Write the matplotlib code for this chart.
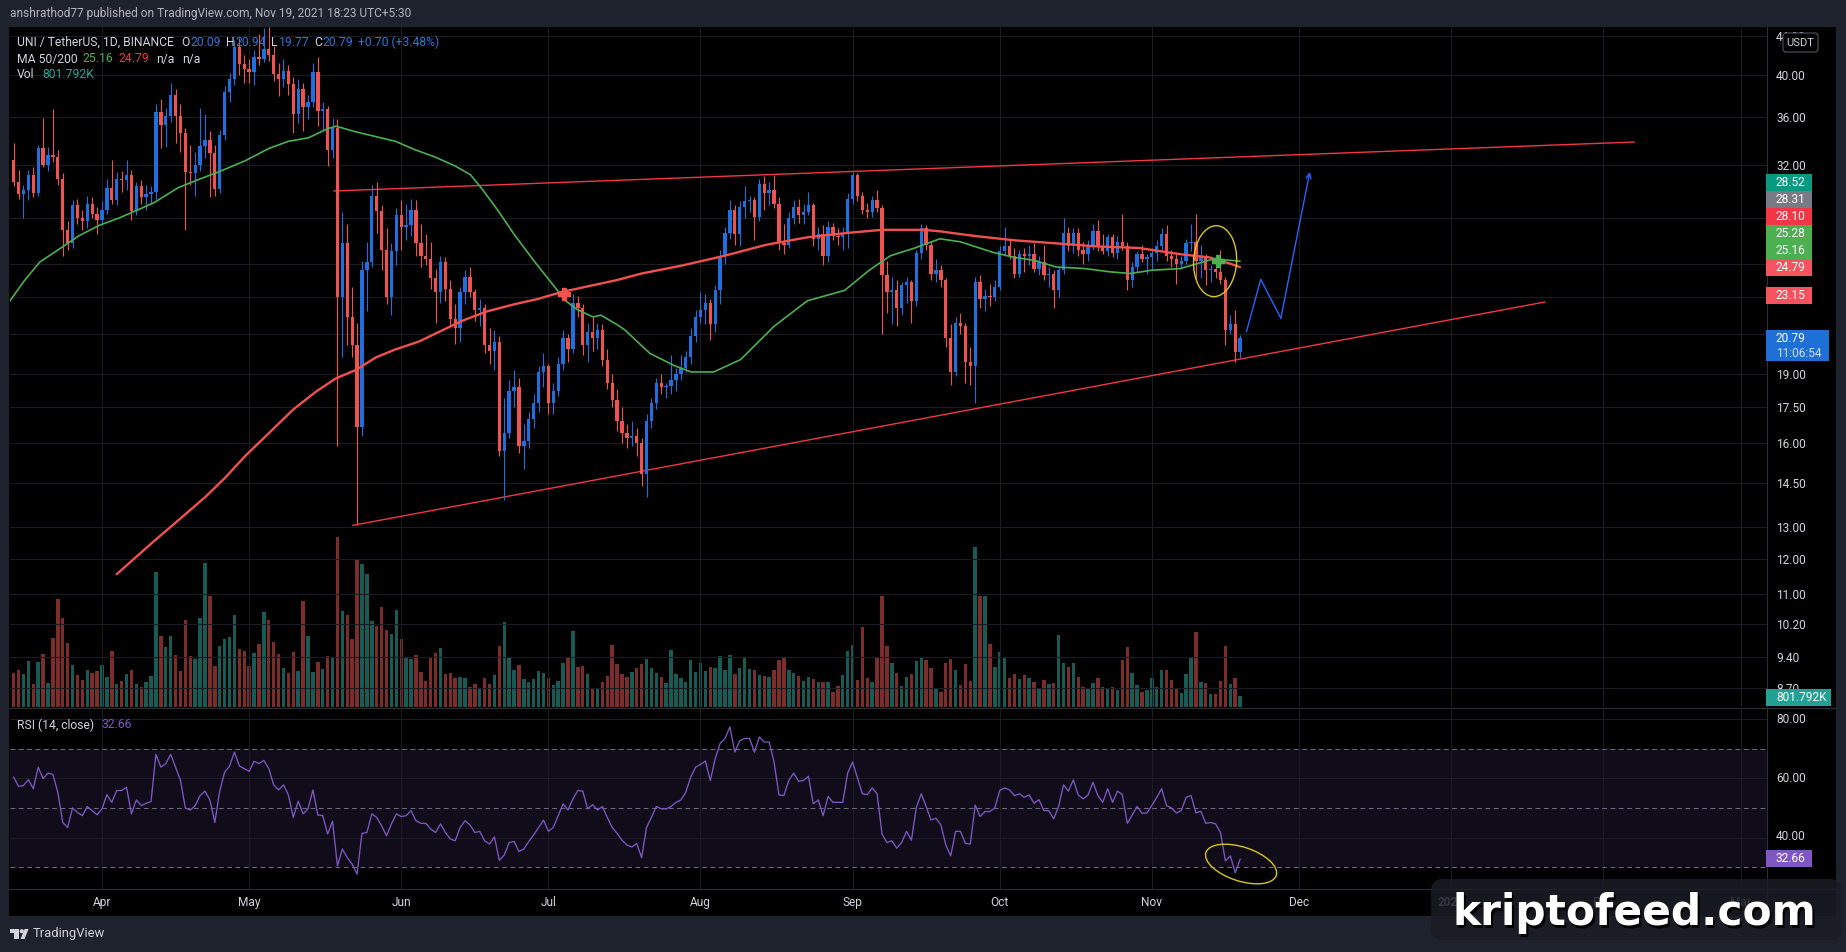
import numpy as np
import matplotlib
matplotlib.use("Agg")
import matplotlib.pyplot as plt
from matplotlib.patches import Rectangle, FancyBboxPatch, Ellipse, Circle, Polygon
from matplotlib.transforms import ScaledTranslation
from matplotlib.ticker import NullLocator, FixedLocator

plt.rcParams['font.family'] = ['Roboto', 'DejaVu Sans']

# ---------------- data (day index 0 = 2021-03-14, UNI/USDT 1D) ----------------
opens = [32.4, 30.6, 29.7, 30.0, 31.2, 29.8, 33.3, 32.0, 32.8, 32.6,
         30.9, 27.2, 26.3, 28.9, 28.0, 27.8, 29.0, 28.3, 27.9, 28.6,
         30.2, 29.3, 30.9, 30.8, 31.2, 28.5, 30.3, 29.5, 29.7, 29.9,
         36.5, 35.3, 36.1, 38.0, 36.1, 34.6, 31.4, 31.3, 32.0, 33.5,
         34.0, 32.9, 30.1, 34.4, 38.3, 39.6, 42.9, 41.1, 40.6, 40.3,
         41.8, 41.6, 42.6, 42.0, 40.1, 39.6, 40.4, 39.1, 36.3, 38.6,
         36.9, 37.4, 40.3, 36.6, 36.7, 33.2, 35.0, 23.0, 26.3, 21.9,
         20.4, 16.65, 24.6, 25.1, 29.6, 28.5, 25.9, 23.0, 25.8, 28.2,
         27.4, 27.5, 28.6, 26.3, 25.5, 25.3, 24.1, 23.3, 25.1, 23.5,
         21.8, 21.3, 23.3, 24.2, 23.3, 22.3, 22.4, 20.4, 20.1, 20.6,
         15.7, 16.4, 18.2, 18.4, 15.9, 16.1, 17.0, 17.7, 19.1, 19.4,
         17.7, 18.2, 19.5, 20.8, 20.2, 22.7, 22.4, 20.4, 21.1, 20.8,
         21.2, 19.7, 18.6, 17.8, 16.9, 16.4, 16.2, 16.3, 16.0, 14.8,
         16.9, 17.7, 18.6, 18.4, 18.45, 18.7, 19.0, 19.3, 19.8, 20.9,
         21.9, 22.3, 22.7, 21.5, 23.4, 25.5, 27.0, 28.6, 26.9, 28.8,
         29.2, 29.3, 28.1, 30.5, 29.8, 30.0, 29.0, 26.3, 26.2, 28.0,
         28.8, 28.2, 28.4, 28.9, 26.6, 26.9, 25.5, 27.4, 26.8, 26.7,
         27.0, 29.4, 31.2, 29.6, 28.6, 28.4, 29.3, 28.7, 24.3, 23.3,
         23.4, 22.4, 23.7, 23.9, 22.8, 25.7, 27.3, 26.2, 24.4, 24.6,
         24.0, 20.8, 19.1, 21.6, 21.4, 19.6, 19.4, 23.9, 22.9, 23.1,
         23.0, 23.6, 25.8, 26.1, 25.5, 24.4, 25.6, 25.5, 25.6, 24.7,
         25.1, 24.3, 24.4, 23.4, 24.6, 27.0, 26.1, 27.0, 25.9, 25.6,
         26.1, 27.1, 26.1, 25.8, 26.7, 25.7, 26.4, 26.1, 24.0, 24.8,
         25.6, 25.3, 25.4, 25.7, 26.1, 26.9, 25.5, 25.3, 25.0, 25.2,
         26.3, 26.4, 25.2, 25.4, 24.6, 24.7, 24.5, 24.0, 21.2, 21.5,
         20.09]
highs = [33.8, 31.6, 30.4, 31.6, 31.8, 33.6, 35.9, 33.4, 36.7, 33.2,
         31.3, 27.8, 29.3, 29.4, 28.6, 29.6, 29.5, 28.8, 29.2, 30.9,
         32.4, 31.4, 31.5, 32.4, 31.6, 30.6, 30.8, 30.4, 30.3, 37.2,
         37.7, 36.8, 39.2, 38.6, 37.2, 35.0, 33.6, 33.0, 36.8, 36.3,
         34.8, 33.6, 34.9, 38.9, 40.2, 43.6, 43.8, 42.0, 41.6, 42.5,
         44.3, 44.9, 45.0, 43.0, 41.2, 41.6, 41.0, 39.8, 39.6, 39.2,
         38.0, 41.2, 41.8, 37.4, 37.0, 35.9, 35.8, 28.4, 27.6, 23.6,
         21.6, 25.2, 26.4, 30.4, 30.6, 28.9, 27.3, 26.3, 28.7, 29.3,
         29.0, 29.4, 29.3, 27.6, 26.9, 26.4, 24.7, 25.5, 25.4, 24.0,
         22.6, 23.6, 24.6, 24.8, 23.5, 22.9, 22.6, 21.3, 21.2, 20.9,
         17.9, 18.7, 19.2, 18.8, 16.8, 17.3, 18.1, 19.4, 20.0, 19.5,
         18.6, 19.8, 21.2, 21.0, 23.2, 23.1, 22.6, 21.6, 21.9, 21.6,
         21.5, 20.2, 19.0, 18.3, 17.5, 16.8, 16.9, 16.6, 16.2, 17.2,
         17.9, 18.8, 19.0, 18.6, 19.9, 19.3, 19.9, 20.1, 21.3, 22.3,
         23.3, 23.2, 22.9, 23.7, 25.9, 27.4, 29.3, 28.9, 29.2, 30.3,
         29.6, 29.5, 30.9, 31.1, 30.6, 31.2, 29.5, 27.6, 28.4, 29.3,
         29.4, 29.0, 29.9, 29.1, 27.4, 27.5, 27.8, 27.7, 27.3, 27.4,
         29.8, 31.4, 31.3, 29.9, 29.1, 29.6, 30.0, 28.9, 25.2, 24.2,
         24.0, 23.9, 24.2, 24.0, 25.9, 27.6, 27.5, 26.4, 25.3, 24.9,
         24.1, 21.5, 21.9, 22.1, 21.6, 20.3, 24.2, 24.3, 23.5, 23.8,
         24.0, 26.1, 27.4, 26.5, 26.0, 25.9, 26.0, 26.2, 26.3, 25.5,
         26.2, 24.8, 24.6, 24.8, 28.0, 27.4, 27.3, 27.3, 26.4, 26.5,
         27.6, 27.9, 26.9, 26.9, 26.9, 26.8, 28.3, 26.4, 25.1, 25.8,
         26.2, 25.6, 26.0, 26.5, 27.3, 27.5, 25.9, 25.6, 25.5, 26.6,
         27.6, 28.3, 26.2, 25.6, 24.9, 24.8, 25.9, 24.2, 22.0, 22.3,
         20.94]
lows = [30.3, 29.4, 28.0, 29.3, 29.5, 29.6, 31.8, 31.5, 32.2, 30.4,
        25.5, 25.9, 26.0, 27.6, 27.2, 27.3, 28.0, 26.9, 27.5, 28.3,
        29.0, 28.9, 29.9, 30.0, 27.9, 28.2, 29.0, 28.6, 29.0, 29.4,
        33.3, 33.4, 35.6, 33.8, 33.0, 27.2, 30.4, 29.6, 31.5, 32.5,
        29.5, 29.6, 29.8, 34.0, 37.4, 39.0, 40.0, 39.2, 39.2, 39.0,
        41.0, 41.3, 41.4, 39.4, 37.9, 38.8, 38.0, 34.6, 35.5, 34.8,
        35.8, 36.9, 35.2, 34.9, 31.9, 32.5, 15.9, 19.8, 20.4, 19.8,
        13.05, 16.3, 22.2, 24.8, 27.0, 24.6, 22.6, 22.0, 24.9, 25.9,
        26.5, 26.8, 25.5, 24.8, 24.9, 23.5, 21.6, 22.7, 22.8, 21.4,
        20.5, 20.6, 22.6, 23.0, 21.7, 21.4, 20.0, 19.5, 19.2, 15.5,
        13.9, 16.2, 17.5, 15.6, 15.0, 15.8, 16.6, 17.3, 18.4, 17.2,
        17.2, 18.0, 19.2, 19.6, 20.0, 21.9, 19.9, 19.6, 20.1, 20.2,
        19.4, 18.3, 17.5, 16.5, 16.0, 15.8, 15.9, 15.5, 14.4, 14.0,
        16.6, 17.4, 18.1, 17.9, 18.1, 18.2, 18.7, 19.1, 19.5, 20.6,
        21.6, 21.5, 20.7, 21.1, 22.6, 25.0, 26.6, 26.2, 26.1, 28.0,
        28.4, 26.5, 27.8, 28.6, 28.9, 28.7, 25.9, 25.6, 26.0, 27.6,
        27.7, 27.6, 28.2, 26.1, 25.9, 24.9, 25.1, 26.5, 26.2, 25.9,
        26.0, 29.0, 29.2, 28.3, 28.0, 28.1, 28.4, 21.0, 22.1, 21.5,
        21.4, 22.0, 22.7, 21.6, 22.5, 25.3, 25.9, 24.0, 23.9, 23.6,
        20.3, 18.5, 18.9, 21.0, 18.6, 18.5, 17.7, 22.4, 22.2, 22.5,
        22.8, 23.4, 25.5, 25.3, 24.1, 24.2, 24.5, 24.9, 24.5, 24.3,
        24.0, 23.6, 22.4, 23.0, 24.4, 25.8, 25.7, 25.5, 25.0, 25.2,
        25.9, 25.8, 25.6, 25.5, 25.4, 25.3, 25.9, 23.4, 23.6, 24.5,
        25.1, 24.4, 24.6, 25.2, 25.8, 25.2, 24.8, 23.8, 24.7, 25.0,
        25.8, 24.0, 24.1, 23.7, 23.9, 24.1, 23.8, 20.4, 21.0, 19.6,
        19.77]
closes = [30.6, 29.7, 30.0, 31.2, 29.8, 33.3, 32.0, 32.8, 32.6, 30.9,
          27.2, 26.3, 28.9, 28.0, 27.8, 29.0, 28.3, 27.9, 28.6, 30.2,
          29.3, 30.9, 30.8, 31.2, 28.5, 30.3, 29.5, 29.7, 29.9, 36.5,
          35.3, 36.1, 38.0, 36.1, 34.6, 31.4, 31.3, 32.0, 33.5, 34.0,
          32.9, 30.1, 34.4, 38.3, 39.6, 42.9, 41.1, 40.6, 40.3, 41.8,
          41.6, 42.6, 42.0, 40.1, 39.6, 40.4, 39.1, 36.3, 38.6, 36.9,
          37.4, 40.3, 36.6, 36.7, 33.2, 35.0, 23.0, 26.3, 21.9, 20.4,
          16.65, 24.6, 25.1, 29.6, 28.5, 25.9, 23.0, 25.8, 28.2, 27.4,
          27.5, 28.6, 26.3, 25.5, 25.3, 24.1, 23.3, 25.1, 23.5, 21.8,
          21.3, 23.3, 24.2, 23.3, 22.3, 22.4, 20.4, 20.1, 20.6, 15.7,
          16.4, 18.2, 18.4, 15.9, 16.1, 17.0, 17.7, 19.1, 19.4, 17.7,
          18.2, 19.5, 20.8, 20.2, 22.7, 22.4, 20.4, 21.1, 20.8, 21.2,
          19.7, 18.6, 17.8, 16.9, 16.4, 16.2, 16.3, 16.0, 14.8, 16.9,
          17.7, 18.6, 18.4, 18.45, 18.7, 19.0, 19.3, 19.8, 20.9, 21.9,
          22.3, 22.7, 21.5, 23.4, 25.5, 27.0, 28.6, 26.9, 28.8, 29.2,
          29.3, 28.1, 30.5, 29.8, 30.0, 29.0, 26.3, 26.2, 28.0, 28.8,
          28.2, 28.4, 28.9, 26.6, 26.9, 25.5, 27.4, 26.8, 26.7, 27.0,
          29.4, 31.2, 29.6, 28.6, 28.4, 29.3, 28.7, 24.3, 23.3, 23.4,
          22.4, 23.7, 23.9, 22.8, 25.7, 27.3, 26.2, 24.4, 24.6, 24.0,
          20.8, 19.1, 21.6, 21.4, 19.6, 19.4, 23.9, 22.9, 23.1, 23.0,
          23.6, 25.8, 26.1, 25.5, 24.4, 25.6, 25.5, 25.6, 24.7, 25.1,
          24.3, 24.4, 23.4, 24.6, 27.0, 26.1, 27.0, 25.9, 25.6, 26.1,
          27.1, 26.1, 25.8, 26.7, 25.7, 26.4, 26.1, 24.0, 24.8, 25.6,
          25.3, 25.4, 25.7, 26.1, 26.9, 25.5, 25.3, 25.0, 25.2, 26.3,
          26.4, 25.2, 25.4, 24.6, 24.7, 24.5, 24.0, 21.2, 21.5, 20.09,
          20.79]
volumes_m = [2.43, 2.64, 2.36, 3.28, 1.65, 3.19, 3.78, 1.72, 4.91, 7.68,
             6.33, 4.56, 3.00, 2.29, 1.94, 2.64, 2.43, 2.57, 3.00, 2.15,
             3.99, 1.65, 1.86, 2.36, 2.64, 1.65, 1.44, 1.79, 2.22, 9.59,
             5.06, 4.28, 5.06, 3.71, 2.57, 6.19, 3.64, 3.42, 6.33, 10.23,
             7.89, 2.93, 4.35, 4.84, 4.98, 6.54, 4.13, 3.99, 2.93, 3.85,
             4.49, 6.76, 6.19, 4.63, 3.78, 2.79, 2.43, 3.92, 2.57, 7.54,
             5.06, 2.50, 3.21, 2.72, 3.64, 3.50, 12.05, 6.83, 6.54, 4.84,
             10.51, 10.16, 9.45, 6.12, 5.76, 7.11, 5.48, 5.20, 6.90, 4.84,
             3.50, 3.42, 3.71, 2.50, 1.86, 3.57, 3.85, 4.20, 2.36, 2.43,
             2.08, 2.15, 2.08, 1.44, 1.65, 1.37, 2.08, 1.65, 2.29, 4.35,
             6.05, 3.57, 2.64, 3.00, 2.01, 1.79, 2.01, 2.57, 2.43, 2.08,
             1.58, 1.86, 3.14, 3.50, 5.41, 2.86, 2.93, 2.36, 1.37, 1.30,
             1.79, 2.22, 4.42, 3.07, 2.36, 2.15, 2.50, 2.79, 3.07, 3.42,
             2.79, 2.43, 2.15, 1.72, 4.06, 2.36, 2.08, 1.79, 3.35, 2.50,
             3.14, 2.57, 2.86, 2.79, 3.64, 2.64, 3.71, 2.36, 2.79, 3.57,
             2.72, 2.64, 2.29, 2.22, 2.15, 2.64, 3.35, 3.50, 2.64, 2.43,
             2.22, 1.86, 2.15, 2.01, 1.79, 1.79, 1.79, 1.08, 1.51, 2.29,
             3.99, 4.42, 1.94, 5.69, 2.08, 1.79, 3.50, 7.89, 4.35, 3.14,
             2.43, 1.51, 2.15, 2.36, 3.28, 3.50, 3.35, 2.79, 1.30, 1.08,
             3.14, 3.42, 2.64, 1.58, 3.07, 1.86, 11.37, 7.89, 7.89, 4.49,
             2.86, 3.92, 3.50, 2.08, 2.36, 2.01, 2.29, 2.08, 1.79, 1.30,
             1.94, 1.65, 1.72, 5.13, 3.14, 2.86, 3.14, 2.15, 1.44, 1.37,
             1.72, 2.08, 1.44, 1.30, 1.44, 1.23, 3.35, 4.28, 2.43, 1.58,
             1.08, 1.23, 2.08, 1.44, 2.64, 2.64, 1.94, 1.30, 1.01, 2.36,
             3.57, 5.34, 1.79, 1.72, 0.94, 0.94, 1.86, 4.35, 1.65, 2.08,
             0.80]
rsi_values = [60.4, 57.3, 57.6, 59.6, 56.5, 63.8, 59.9, 61.8, 61.3, 55.3,
              45.1, 43.4, 50.0, 48.5, 47.4, 50.5, 49.1, 47.7, 49.7, 54.5,
              51.9, 55.9, 55.9, 57.0, 48.0, 52.7, 50.8, 51.6, 52.2, 68.1,
              63.8, 65.0, 68.1, 63.8, 59.3, 50.0, 49.3, 50.8, 54.2, 55.7,
              52.7, 45.1, 55.7, 62.1, 64.1, 68.9, 64.2, 63.3, 62.4, 65.8,
              65.0, 66.1, 63.3, 57.8, 56.1, 57.8, 54.4, 46.8, 52.3, 48.0,
              49.7, 56.1, 47.6, 47.4, 41.2, 45.5, 30.4, 36.1, 33.2, 31.0,
              27.6, 41.4, 41.7, 48.0, 46.8, 44.0, 40.6, 44.6, 48.0, 47.1,
              47.4, 49.1, 45.7, 44.8, 44.8, 42.9, 41.7, 44.6, 41.7, 39.5,
              38.9, 43.4, 45.7, 44.3, 41.7, 42.1, 38.9, 37.8, 40.2, 32.3,
              34.1, 38.3, 38.7, 35.3, 36.1, 38.7, 40.9, 43.4, 45.9, 42.1,
              43.4, 47.4, 51.4, 49.3, 53.1, 55.9, 55.7, 49.7, 51.1, 49.3,
              50.5, 46.8, 43.4, 41.4, 39.1, 37.5, 36.8, 38.0, 33.2, 43.4,
              46.8, 50.5, 49.7, 49.7, 50.5, 51.9, 52.7, 55.3, 60.4, 63.8,
              64.7, 65.9, 59.3, 66.7, 71.8, 73.5, 77.4, 68.9, 72.7, 73.5,
              73.5, 68.9, 74.0, 72.3, 72.3, 65.5, 54.4, 54.2, 59.3, 61.8,
              59.0, 59.3, 60.7, 51.4, 52.7, 47.4, 53.9, 51.9, 51.9, 51.9,
              61.8, 65.5, 60.2, 54.8, 54.5, 56.8, 54.8,
              41.2, 38.3, 38.9, 36.4, 38.3, 42.1, 39.1, 50.2, 54.8, 50.5,
              45.9, 46.5, 44.3, 37.5, 33.8, 42.1, 42.1, 38.0, 37.8, 51.0,
              47.1, 48.8, 48.8, 50.0, 55.9, 56.8, 56.1, 54.2, 54.8, 53.6,
              54.4, 51.6, 52.8, 49.1, 49.1, 46.3, 50.5, 57.8, 55.7, 59.5,
              54.4, 53.1, 54.4, 58.7, 54.2, 51.9, 56.5, 51.9, 55.7, 54.5,
              44.8, 47.6, 50.5, 48.2, 48.3, 50.8, 53.6, 56.5, 50.8, 50.0,
              48.3, 49.1, 53.6, 54.2, 48.3, 48.9, 44.8, 45.1, 44.6, 41.7,
              32.1, 33.8, 28.1, 32.66]
ma50_x = [-1, 2, 5.3, 10.1, 13.3, 17.4, 21.4, 25.4, 28.6, 33.5,
          37.5, 42.3, 47.2, 52.0, 56.0, 60.1, 64.1, 65.7, 69.8, 73.8,
          77.8, 81.8, 85.9, 89.9, 93.1, 95.5, 98.8, 102.0, 106.0, 110.0,
          112.5, 114.9, 118.1, 119.7, 122.9, 124.6, 129.7, 134.7, 138.1, 142.7,
          148.2, 155.0, 161.8, 169.4, 174.4, 178.7, 183.7, 188.8, 193.0, 199.8,
          204.0, 208.2, 212.5, 218.4, 223.5, 227.7, 231.9, 237.8, 241.2, 244.6, 250]
ma50_y = [22.7, 23.9, 25.1, 26.1, 26.8, 27.5, 28.0, 28.6, 29.1, 30.2,
          30.8, 31.5, 32.3, 33.3, 33.9, 34.2, 35.0, 35.2, 34.7, 34.3,
          33.9, 33.2, 32.6, 31.9, 31.2, 30.1, 28.5, 26.9, 25.2, 23.7,
          22.8, 22.3, 21.9, 22.0, 21.5, 21.2, 20.0, 19.4, 19.1, 19.1,
          19.7, 21.4, 22.8, 23.4, 24.6, 25.5, 26.0, 26.6, 26.4, 25.7,
          25.4, 25.2, 24.8, 24.7, 24.5, 24.4, 24.6, 24.7, 25.0, 25.3, 25.16]
ma200_x = [21.0, 28.3, 32.8, 39.1, 43.2, 47.2, 52.0, 57.0, 61.7, 65.7,
           69.8, 73.8, 77.8, 82.6, 87.5, 91.5, 96.4, 102.0, 106.8, 111.7,
           116.5, 122.9, 128.0, 136.4, 144.9, 153.3, 161.8, 170.2, 177.0, 185.4,
           188.8, 195.6, 204.0, 212.5, 220.9, 229.4, 237.8, 243.7, 248.0, 250]
ma200_y = [11.55, 12.5, 13.1, 14.0, 14.7, 15.5, 16.4, 17.4, 18.2, 18.8,
           19.2, 19.8, 20.2, 20.6, 21.2, 21.7, 22.2, 22.6, 22.9, 23.3,
           23.6, 24.0, 24.4, 24.9, 25.5, 26.2, 26.7, 27.0, 27.2, 27.2,
           27.1, 26.8, 26.5, 26.3, 26.1, 26.0, 25.6, 25.4, 25.0, 24.79]
cross_x = [112.1, 245.4]
cross_y = [23.16, 25.2]
cross_colors = ['#ef5350', '#4caf50']
trend_upper_x = [65.3, 330.3]
trend_upper_y = [29.96, 33.84]
trend_lower_x = [69.1, 312.1]
trend_lower_y = [13.04, 22.73]
proj_x = [251.3, 254.2, 258.3, 264.2]
proj_y = [21.12, 24.05, 21.83, 31.41]
circle_price = (244.9, 25.16)
circle_rsi = (250.2, 31.05)
month_pos = [18, 48, 79, 109, 140, 171, 201, 232, 262, 293, 324, 352]
month_labels = ['Apr', 'May', 'Jun', 'Jul', 'Aug', 'Sep', 'Oct', 'Nov', 'Dec', '2022', 'Feb', 'Mar']
price_ticks = [44, 40, 36, 32, 28, 25, 23, 21, 19, 17.5, 16, 14.5, 13, 12, 11, 10.2, 9.4, 8.7]
rsi_ticks = [80, 60, 40]
side_labels = ['28.52', '28.31', '28.10', '25.28', '25.16', '24.79', '23.15']
side_colors = ['#089981', '#787b86', '#f23645', '#4caf50', '#4caf50', '#f7525f', '#f7525f']

# ---------------- layout ----------------
W, H, DPI = 1846, 952, 100
fig = plt.figure(figsize=(W / DPI, H / DPI), dpi=DPI)
fig.patch.set_facecolor('#1e222d')

PL, PR = 9.8, 1767.0
MT, MB = 27.0, 707.0
RT, RB = 708.0, 889.0
TB = 916.0
AXR = 1836.0
XMIN, XMAX = -0.79, 357.4
GRID = '#191c25'
TXT = '#d1d4dc'
UP, DN = '#1f6fde', '#f05252'
VUP, VDN = '#185a54', '#7c2d2b'


def rect(x0, y0, x1, y1):
    return [x0 / W, 1 - y1 / H, (x1 - x0) / W, (y1 - y0) / H]


bg = fig.add_axes([0, 0, 1, 1], zorder=-5)
bg.set_xlim(0, W)
bg.set_ylim(H, 0)
bg.axis('off')
bg.add_patch(Rectangle((9, 27), AXR - 9, TB - 27, color='black', lw=0))

idx = np.arange(len(closes))
o = np.array(opens)
c = np.array(closes)
up = c >= o
ccol = np.where(up, UP, DN)
vcol = np.where(up, VUP, VDN)

# volume pane (underlay)
vax = fig.add_axes(rect(PL, MT, PR, MB), zorder=0)
vax.bar(idx, volumes_m, width=0.7, color=vcol, linewidth=0)
vax.set_xlim(XMIN, XMAX)
vax.set_ylim(0, 48.2)
vax.axis('off')

# price pane
ax = fig.add_axes(rect(PL, MT, PR, MB), zorder=1)
ax.patch.set_alpha(0)
ax.set_yscale('log')
for s in ax.spines.values():
    s.set_visible(False)
ax.yaxis.set_major_locator(FixedLocator(price_ticks))
ax.yaxis.set_minor_locator(NullLocator())
ax.set_yticklabels([f'{t:.2f}' for t in price_ticks])
ax.yaxis.tick_right()
ax.tick_params(axis='y', length=0, pad=6.5, labelsize=8.6, labelcolor=TXT)
ax.set_xticks(month_pos)
ax.tick_params(axis='x', length=0, labelbottom=False)
ax.grid(True, color=GRID, lw=0.75)
ax.set_axisbelow(True)

ax.plot(trend_upper_x, trend_upper_y, color='#f23645', lw=1.0, zorder=2)
ax.plot(trend_lower_x, trend_lower_y, color='#f23645', lw=1.0, zorder=2)

body_lo = np.minimum(o, c)
body_hi = np.maximum(o, c)
ax.vlines(idx, lows, highs, colors=ccol, lw=0.8, zorder=3)
ax.bar(idx, body_hi - body_lo, bottom=body_lo, width=0.68, color=ccol, linewidth=0, zorder=4)

ax.plot(ma200_x, ma200_y, color='#f0514f', lw=1.7, zorder=5, solid_capstyle='round')
ax.plot(ma50_x, ma50_y, color='#4caf50', lw=1.2, zorder=5, solid_capstyle='round')
for cx, cy, cc in zip(cross_x, cross_y, cross_colors):
    ax.plot([cx], [cy], marker='P', ms=8.5, color=cc, mec=cc, zorder=6)

ax.plot(proj_x[:-1], proj_y[:-1], color='#2962ff', lw=1.0, zorder=7)
ax.annotate('', xy=(proj_x[-1], proj_y[-1]), xytext=(proj_x[-2], proj_y[-2]),
            arrowprops=dict(arrowstyle='->', color='#2962ff', lw=1.0,
                            shrinkA=0, shrinkB=0, mutation_scale=9), zorder=7)


def px_ellipse(axis, center, w_px, h_px, angle):
    tr = fig.dpi_scale_trans + ScaledTranslation(center[0], center[1], axis.transData)
    e = Ellipse((0, 0), w_px / DPI, h_px / DPI, angle=angle, transform=tr,
                fill=False, ec='#d9c51c', lw=1.0, zorder=8)
    axis.add_artist(e)


px_ellipse(ax, circle_price, 43, 71, -3)
ax.set_xlim(XMIN, XMAX)
ax.set_ylim(8.30, 45.05)

# RSI pane
rax = fig.add_axes(rect(PL, RT, PR, RB), zorder=1)
rax.set_facecolor('black')
for s in rax.spines.values():
    s.set_visible(False)
rax.axhspan(30, 70, color='#100c1a', lw=0, zorder=0)
rax.set_yticks(rsi_ticks)
rax.set_xticks(month_pos)
rax.grid(True, color=GRID, lw=0.75)
rax.set_axisbelow(True)
rax.tick_params(length=0, labelbottom=False, labelleft=False)
for lvl in (70, 50, 30):
    rax.axhline(lvl, color='#6c6880', lw=0.75, ls=(0, (4.6, 3.4)), zorder=1)
rax.plot(idx, rsi_values, color='#7e57c2', lw=0.95, zorder=3)
px_ellipse(rax, circle_rsi, 74, 34, -18)
rax.set_xlim(XMIN, XMAX)
rax.set_ylim(22.6, 83.8)

# time axis
tax = fig.add_axes(rect(PL, RB, PR, TB), zorder=1)
tax.axis('off')
tax.set_xlim(XMIN, XMAX)
tax.set_ylim(0, 1)
for mp, ml in zip(month_pos, month_labels):
    tax.text(mp, 0.5, ml, color=TXT, fontsize=8.6, ha='center', va='center',
             fontweight='bold' if ml == '2022' else 'normal')

# overlay chrome (pixel coordinates)
oax = fig.add_axes([0, 0, 1, 1], zorder=10)
oax.set_xlim(0, W)
oax.set_ylim(H, 0)
oax.axis('off')

SEP = '#2a2e39'
oax.plot([9, AXR], [707.5, 707.5], color=SEP, lw=0.8)
oax.plot([9, AXR], [889, 889], color=SEP, lw=0.8)
oax.plot([1767, 1767], [27, TB], color=SEP, lw=0.8)

oax.text(10, 14, 'anshrathod77 published on TradingView.com, Nov 19, 2021 18:23 UTC+5:30',
         color='#b2b5be', fontsize=8.6, va='center', ha='left')

BLUE_T = '#2f77d8'
legend1 = [('UNI / TetherUS, 1D, BINANCE', 17, TXT), ('O', 181, TXT), ('20.09', 190, BLUE_T),
           ('H', 226, TXT), ('20.94', 235, BLUE_T), ('L', 271, TXT), ('19.77', 279, BLUE_T),
           ('C', 314, TXT), ('20.79', 322, BLUE_T), ('+0.70 (+3.48%)', 358, BLUE_T)]
for t, x, col in legend1:
    oax.text(x, 42, t, color=col, fontsize=8.7, va='center', ha='left')
legend2 = [('MA 50/200', 17, TXT), ('25.16', 82, '#4caf50'), ('24.79', 118, '#f23645'),
           ('n/a', 156, TXT), ('n/a', 182, TXT)]
for t, x, col in legend2:
    oax.text(x, 59, t, color=col, fontsize=8.7, va='center', ha='left')
oax.text(17, 75, 'Vol', color=TXT, fontsize=8.7, va='center', ha='left')
oax.text(42, 75, '801.792K', color='#26a69a', fontsize=8.7, va='center', ha='left')
oax.text(17, 725, 'RSI (14, close)', color=TXT, fontsize=8.7, va='center', ha='left')
oax.text(102, 725, '32.66', color='#7e57c2', fontsize=8.7, va='center', ha='left')

# RSI scale labels
for t, y in (('80.00', 719.5), ('60.00', 778.0), ('40.00', 836.7)):
    oax.text(1776, y, t, color=TXT, fontsize=8.6, va='center', ha='left')


def side_box(yc, txt, col, x1=1812, h=16.7, tcol='white'):
    oax.add_patch(Rectangle((1766, yc - h / 2), x1 - 1766, h, color=col, lw=0, zorder=5))
    oax.text(1776, yc, txt, color=tcol, fontsize=8.6, va='center', ha='left', zorder=6)


label_y = [182.5, 199.2, 216.3, 233.6, 250.3, 267.3, 295.3]
for yc, t, col in zip(label_y, side_labels, side_colors):
    side_box(yc, t, col)
oax.add_patch(Rectangle((1766, 330), 63, 31, color='#1e6fd6', lw=0, zorder=5))
oax.text(1776, 338.5, '20.79', color='white', fontsize=8.6, va='center', ha='left', zorder=6)
oax.text(1776, 353.5, '11:06:54', color='#cfe0f7', fontsize=8.6, va='center', ha='left', zorder=6)
side_box(697.5, '801.792K', '#22a093', x1=1831)
side_box(858.5, '32.66', '#7e57c2')

oax.add_patch(FancyBboxPatch((1783, 33), 35, 19, boxstyle='round,pad=0,rounding_size=3',
                             fc='black', ec='#50535e', lw=0.8, zorder=6))
oax.text(1800.5, 42.8, 'USDT', color=TXT, fontsize=8.0, va='center', ha='center', zorder=7)

# TradingView logo
LOGO = '#d1d4dc'
oax.add_patch(Rectangle((10, 929), 9, 3.6, color=LOGO, lw=0))
oax.add_patch(Rectangle((14.2, 929), 4.6, 10, color=LOGO, lw=0))
oax.add_patch(Circle((21.8, 931.2), 2.1, color=LOGO, lw=0))
oax.add_patch(Polygon([(20.5, 939), (24.6, 929), (28.6, 929), (24.5, 939)], closed=True, color=LOGO, lw=0))
oax.text(33, 934, 'TradingView', color=LOGO, fontsize=9.4, va='center', ha='left')

# watermark
oax.add_patch(FancyBboxPatch((1431, 879), 411, 61, boxstyle='round,pad=0,rounding_size=12',
                             fc='#1a1d25', ec='none', alpha=0.86, zorder=8))
oax.text(1455, 928, 'kriptofeed.com', color='black', fontsize=30.5, fontweight='bold',
         family='DejaVu Sans', va='baseline', ha='left', zorder=9)
oax.text(1452, 925, 'kriptofeed.com', color='white', fontsize=30.5, fontweight='bold',
         family='DejaVu Sans', va='baseline', ha='left', zorder=10)

fig.savefig('out.png', dpi=DPI, facecolor=fig.get_facecolor())
